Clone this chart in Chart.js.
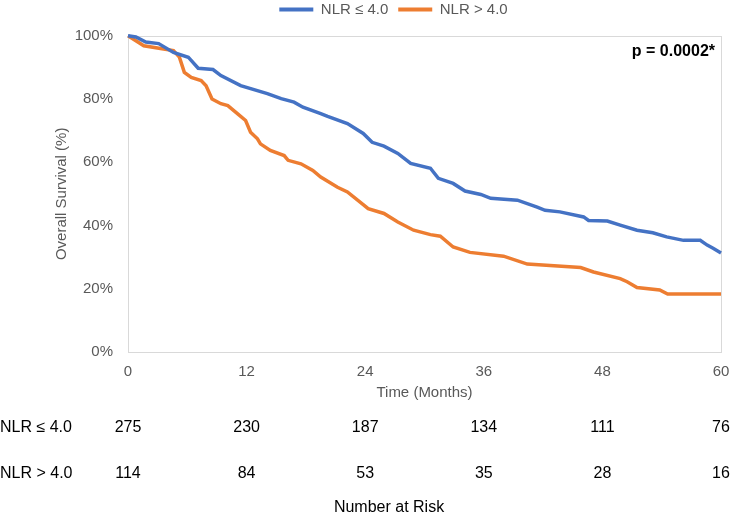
<!DOCTYPE html>
<html>
<head>
<meta charset="utf-8">
<script src="https://cdn.jsdelivr.net/npm/chart.js@4"></script>
<style>
  html, body { margin: 0; padding: 0; background: #fff; }
</style>
</head>
<body>
<canvas id="km" width="731" height="514"></canvas>
<script>
const seriesNames = ['NLR ≤ 4.0', 'NLR > 4.0'];

// NLR <= 4.0 curve (months, % surviving)
const lowMonths = [0, 0.8, 1.8, 3.1, 4.6, 6.1, 7.1, 8.6, 9.4, 11.4, 14.1, 15.5, 16.8, 17.7, 19.5, 20.2, 22.2, 23.8, 24.7, 25.9,
  27.3, 28.6, 30.6, 31.4, 32.9, 34.1, 35.7, 36.7, 39.4, 41.4, 42.2, 43.7, 46.1, 46.6, 48.5, 49.8, 51.5, 53.1, 54.5, 56.2,
  57.9, 58.6, 59.2, 60];
const lowSurvival = [100, 99.6, 98, 97.5, 94.7, 93.2, 89.7, 89.3, 87.4, 84.2, 81.7, 80.1, 79, 77.4, 75.4, 74.5, 72.2, 69.1, 66.3, 65.1,
  62.8, 59.6, 58.1, 54.9, 53.3, 50.9, 49.8, 48.6, 48, 45.8, 44.8, 44.3, 42.7, 41.6, 41.4, 40.1, 38.5, 37.7, 36.4, 35.3,
  35.3, 33.8, 32.8, 31.3];

// NLR > 4.0 curve
const highMonths = [0, 1.6, 3.6, 4.6, 5.2, 5.7, 6.4, 7.4, 7.9, 8.5, 9.4, 10.1, 11.1, 11.9, 12.4, 13.1, 13.4, 14.4, 15.8, 16.2,
  17.5, 18.7, 19.5, 21.2, 22.2, 23.8, 24.3, 25.9, 27.3, 28.9, 30.6, 31.6, 32.9, 34.6, 38, 40.4, 45.8, 47.1, 49.8, 50.5,
  51.5, 53.8, 54.6, 60];
const highSurvival = [100, 96.8, 95.8, 95.3, 93.2, 88.4, 86.8, 85.8, 84.2, 80, 78.5, 77.9, 75.3, 73.2, 69.5, 67.4, 65.8, 63.7, 62.1, 60.6,
  59.5, 57.4, 55.3, 52.1, 50.6, 46.6, 45.3, 43.8, 41.1, 38.5, 37.1, 36.6, 33.2, 31.5, 30.3, 27.8, 26.7, 25.3, 23.2, 22.2,
  20.4, 19.6, 18.3, 18.3];

const xTicks = [0, 12, 24, 36, 48, 60];
const yTicks = [0, 20, 40, 60, 80, 100];
const riskLow = [275, 230, 187, 134, 111, 76];
const riskHigh = [114, 84, 53, 35, 28, 16];
const pValueText = 'p = 0.0002*';

const FONT = '"Liberation Sans", Arial, sans-serif';
const GREY = '#595959';
const BLUE = '#4472C4';
const ORANGE = '#ED7D31';

const toPoints = (xs, ys) => xs.map((x, i) => ({ x, y: ys[i] }));

// plot frame, p-value and the number-at-risk table under the axis
const extras = {
  id: 'extras',
  beforeDatasetsDraw(chart) {
    const { ctx, chartArea: a } = chart;
    ctx.save();
    ctx.strokeStyle = '#d9d9d9';
    ctx.lineWidth = 1;
    ctx.strokeRect(Math.round(a.left) + 0.5, Math.round(a.top) + 0.5,
      Math.round(a.right - a.left), Math.round(a.bottom - a.top));
    ctx.restore();
  },
  afterDraw(chart) {
    const { ctx, chartArea: a, scales: { x } } = chart;
    ctx.save();
    ctx.fillStyle = '#000';
    ctx.textBaseline = 'middle';
    ctx.font = 'bold 16px ' + FONT;
    ctx.textAlign = 'right';
    ctx.fillText(pValueText, a.right - 6, a.top + 16);

    ctx.font = '16px ' + FONT;
    [[seriesNames[0], riskLow, 428], [seriesNames[1], riskHigh, 474]].forEach(([name, counts, y]) => {
      ctx.textAlign = 'left';
      ctx.fillText(name, 0, y);
      ctx.textAlign = 'center';
      counts.forEach((n, i) => ctx.fillText(String(n), x.getPixelForValue(xTicks[i]), y));
    });
    ctx.fillText('Number at Risk', 389, 508);
    ctx.restore();
  }
};

new Chart(document.getElementById('km'), {
  type: 'scatter',
  data: {
    datasets: [
      { label: seriesNames[0], data: toPoints(lowMonths, lowSurvival), borderColor: BLUE, backgroundColor: BLUE },
      { label: seriesNames[1], data: toPoints(highMonths, highSurvival), borderColor: ORANGE, backgroundColor: ORANGE }
    ].map(d => ({ ...d, showLine: true, borderWidth: 3.5, pointRadius: 0, tension: 0, clip: false }))
  },
  options: {
    responsive: false,
    animation: false,
    layout: { padding: { top: -8, left: 56, right: 0, bottom: 112 } },
    plugins: {
      tooltip: { enabled: false },
      legend: {
        position: 'top',
        labels: {
          font: { family: FONT, size: 15 },
          color: GREY,
          boxWidth: 34,
          boxHeight: 4,
          padding: 10,
          generateLabels: chart => Chart.defaults.plugins.legend.labels.generateLabels(chart)
            .map(l => ({ ...l, lineWidth: 0 }))
        }
      },
      // empty subtitle only used as a spacer between legend and plot
      subtitle: { display: true, text: '', weight: 500, font: { size: 1 }, padding: { top: 7.5, bottom: 0 } }
    },
    scales: {
      x: {
        type: 'linear', min: 0, max: 60,
        afterBuildTicks: s => { s.ticks = xTicks.map(v => ({ value: v })); },
        ticks: { font: { family: FONT, size: 15 }, color: GREY, padding: 11, maxRotation: 0 },
        grid: { display: false, drawTicks: false },
        border: { display: false },
        title: { display: true, text: 'Time (Months)', font: { family: FONT, size: 15 }, color: GREY, padding: 0 },
        afterFit: s => { s.height = 50; s.paddingLeft = 0; s.paddingRight = 10; }
      },
      y: {
        min: 0, max: 100,
        afterBuildTicks: s => { s.ticks = yTicks.map(v => ({ value: v })); },
        ticks: { font: { family: FONT, size: 15 }, color: GREY, padding: 15, callback: v => v + '%' },
        grid: { display: false, drawTicks: false },
        border: { display: false },
        title: { display: true, text: 'Overall Survival (%)', font: { family: FONT, size: 15 }, color: GREY,
          padding: { top: -3.3, bottom: 0 } },
        afterFit: s => { s.width = 72; }
      }
    }
  },
  plugins: [extras]
});
</script>
</body>
</html>
